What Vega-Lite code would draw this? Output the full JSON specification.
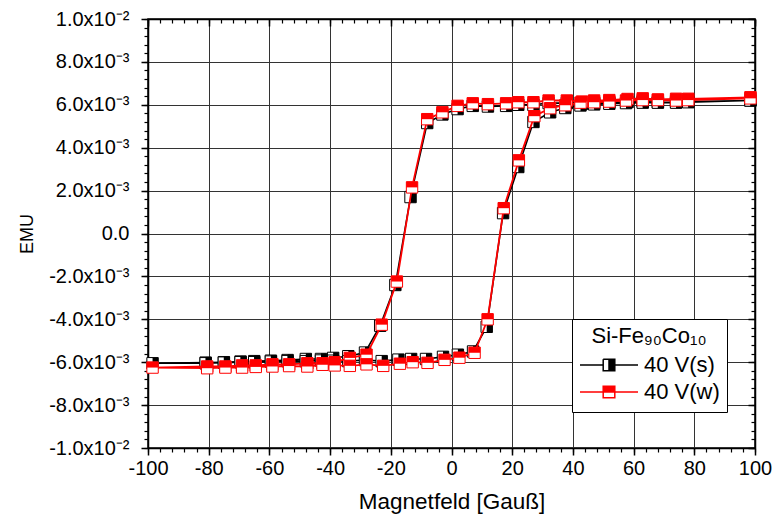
{
  "$schema": "https://vega.github.io/schema/vega-lite/v6.json",
  "autosize": {"type": "none"},
  "width": 607,
  "height": 429,
  "padding": {"left": 148, "top": 19, "right": 20, "bottom": 73},
  "background": "white",
  "config": {
    "view": {"stroke": "black", "strokeWidth": 1.5},
    "font": "Liberation Sans"
  },
  "datasets": {
    "pts": [
      {"s":"40 V(s)","o":1,"x":98.5,"y":0.0062},
      {"s":"40 V(s)","o":2,"x":78,"y":0.00615},
      {"s":"40 V(s)","o":3,"x":74,"y":0.00613},
      {"s":"40 V(s)","o":4,"x":68,"y":0.00612},
      {"s":"40 V(s)","o":5,"x":63,"y":0.00615},
      {"s":"40 V(s)","o":6,"x":58,"y":0.00613},
      {"s":"40 V(s)","o":7,"x":52,"y":0.0061},
      {"s":"40 V(s)","o":8,"x":47,"y":0.00608},
      {"s":"40 V(s)","o":9,"x":43,"y":0.00605},
      {"s":"40 V(s)","o":10,"x":38,"y":0.00608},
      {"s":"40 V(s)","o":11,"x":32,"y":0.00608},
      {"s":"40 V(s)","o":12,"x":27,"y":0.006},
      {"s":"40 V(s)","o":13,"x":22,"y":0.006},
      {"s":"40 V(s)","o":14,"x":18,"y":0.00595},
      {"s":"40 V(s)","o":15,"x":12,"y":0.00592},
      {"s":"40 V(s)","o":16,"x":7,"y":0.00595},
      {"s":"40 V(s)","o":17,"x":2,"y":0.0058},
      {"s":"40 V(s)","o":18,"x":-3,"y":0.00555},
      {"s":"40 V(s)","o":19,"x":-8,"y":0.00515},
      {"s":"40 V(s)","o":20,"x":-13.5,"y":0.0017},
      {"s":"40 V(s)","o":21,"x":-18.5,"y":-0.0024},
      {"s":"40 V(s)","o":22,"x":-23.5,"y":-0.0043},
      {"s":"40 V(s)","o":23,"x":-28.5,"y":-0.00555},
      {"s":"40 V(s)","o":24,"x":-34,"y":-0.00572},
      {"s":"40 V(s)","o":25,"x":-39,"y":-0.0058},
      {"s":"40 V(s)","o":26,"x":-43,"y":-0.00585},
      {"s":"40 V(s)","o":27,"x":-48,"y":-0.00585},
      {"s":"40 V(s)","o":28,"x":-54,"y":-0.0059},
      {"s":"40 V(s)","o":29,"x":-59.5,"y":-0.00593},
      {"s":"40 V(s)","o":30,"x":-65,"y":-0.00595},
      {"s":"40 V(s)","o":31,"x":-69.5,"y":-0.00597},
      {"s":"40 V(s)","o":32,"x":-75,"y":-0.006},
      {"s":"40 V(s)","o":33,"x":-81,"y":-0.00602},
      {"s":"40 V(s)","o":34,"x":-98.5,"y":-0.00605},
      {"s":"40 V(s)","o":35,"x":-81,"y":-0.00605},
      {"s":"40 V(s)","o":36,"x":-75,"y":-0.00602},
      {"s":"40 V(s)","o":37,"x":-69.5,"y":-0.006},
      {"s":"40 V(s)","o":38,"x":-65,"y":-0.006},
      {"s":"40 V(s)","o":39,"x":-59.5,"y":-0.00597},
      {"s":"40 V(s)","o":40,"x":-54,"y":-0.00595},
      {"s":"40 V(s)","o":41,"x":-48,"y":-0.00595},
      {"s":"40 V(s)","o":42,"x":-43,"y":-0.00592},
      {"s":"40 V(s)","o":43,"x":-39,"y":-0.00593},
      {"s":"40 V(s)","o":44,"x":-34,"y":-0.00595},
      {"s":"40 V(s)","o":45,"x":-28.5,"y":-0.0059},
      {"s":"40 V(s)","o":46,"x":-23,"y":-0.00595},
      {"s":"40 V(s)","o":47,"x":-17.5,"y":-0.00588},
      {"s":"40 V(s)","o":48,"x":-13.3,"y":-0.00585},
      {"s":"40 V(s)","o":49,"x":-8.4,"y":-0.00585},
      {"s":"40 V(s)","o":50,"x":-2.8,"y":-0.00575},
      {"s":"40 V(s)","o":51,"x":2.1,"y":-0.00565},
      {"s":"40 V(s)","o":52,"x":7.1,"y":-0.0055},
      {"s":"40 V(s)","o":53,"x":11.6,"y":-0.00435},
      {"s":"40 V(s)","o":54,"x":17,"y":0.00095},
      {"s":"40 V(s)","o":55,"x":22,"y":0.0031},
      {"s":"40 V(s)","o":56,"x":27,"y":0.0052},
      {"s":"40 V(s)","o":57,"x":32.5,"y":0.00565},
      {"s":"40 V(s)","o":58,"x":37.5,"y":0.00585},
      {"s":"40 V(s)","o":59,"x":42.5,"y":0.00597},
      {"s":"40 V(s)","o":60,"x":47,"y":0.00602},
      {"s":"40 V(s)","o":61,"x":52,"y":0.00605},
      {"s":"40 V(s)","o":62,"x":57.5,"y":0.00608},
      {"s":"40 V(s)","o":63,"x":63,"y":0.0061},
      {"s":"40 V(s)","o":64,"x":68,"y":0.0061},
      {"s":"40 V(s)","o":65,"x":74,"y":0.0061},
      {"s":"40 V(s)","o":66,"x":78,"y":0.00612},
      {"s":"40 V(s)","o":67,"x":98.5,"y":0.0062},
      {"s":"40 V(w)","o":1,"x":98.5,"y":0.00635},
      {"s":"40 V(w)","o":2,"x":78,"y":0.00628},
      {"s":"40 V(w)","o":3,"x":74,"y":0.00628},
      {"s":"40 V(w)","o":4,"x":68,"y":0.00625},
      {"s":"40 V(w)","o":5,"x":63,"y":0.0063},
      {"s":"40 V(w)","o":6,"x":58,"y":0.00627},
      {"s":"40 V(w)","o":7,"x":52,"y":0.00622},
      {"s":"40 V(w)","o":8,"x":47,"y":0.0062},
      {"s":"40 V(w)","o":9,"x":43,"y":0.00615},
      {"s":"40 V(w)","o":10,"x":38,"y":0.0062},
      {"s":"40 V(w)","o":11,"x":32,"y":0.0062},
      {"s":"40 V(w)","o":12,"x":27,"y":0.00612},
      {"s":"40 V(w)","o":13,"x":22,"y":0.00612},
      {"s":"40 V(w)","o":14,"x":18,"y":0.00607},
      {"s":"40 V(w)","o":15,"x":12,"y":0.00603},
      {"s":"40 V(w)","o":16,"x":7,"y":0.00607},
      {"s":"40 V(w)","o":17,"x":2,"y":0.00595},
      {"s":"40 V(w)","o":18,"x":-3,"y":0.00565},
      {"s":"40 V(w)","o":19,"x":-8,"y":0.00533},
      {"s":"40 V(w)","o":20,"x":-13,"y":0.00215},
      {"s":"40 V(w)","o":21,"x":-18,"y":-0.00224},
      {"s":"40 V(w)","o":22,"x":-23,"y":-0.00425},
      {"s":"40 V(w)","o":23,"x":-28,"y":-0.00565},
      {"s":"40 V(w)","o":24,"x":-33.5,"y":-0.0058},
      {"s":"40 V(w)","o":25,"x":-38.5,"y":-0.006},
      {"s":"40 V(w)","o":26,"x":-42.5,"y":-0.00605},
      {"s":"40 V(w)","o":27,"x":-47.5,"y":-0.00605},
      {"s":"40 V(w)","o":28,"x":-53.5,"y":-0.0061},
      {"s":"40 V(w)","o":29,"x":-59,"y":-0.0061},
      {"s":"40 V(w)","o":30,"x":-64.5,"y":-0.00615},
      {"s":"40 V(w)","o":31,"x":-69,"y":-0.00615},
      {"s":"40 V(w)","o":32,"x":-74.5,"y":-0.0062},
      {"s":"40 V(w)","o":33,"x":-80.5,"y":-0.0062},
      {"s":"40 V(w)","o":34,"x":-98.5,"y":-0.00625},
      {"s":"40 V(w)","o":35,"x":-80.5,"y":-0.00628},
      {"s":"40 V(w)","o":36,"x":-74.5,"y":-0.00625},
      {"s":"40 V(w)","o":37,"x":-69,"y":-0.00625},
      {"s":"40 V(w)","o":38,"x":-64.5,"y":-0.00622},
      {"s":"40 V(w)","o":39,"x":-59,"y":-0.0062},
      {"s":"40 V(w)","o":40,"x":-53.5,"y":-0.00618},
      {"s":"40 V(w)","o":41,"x":-47.5,"y":-0.0062},
      {"s":"40 V(w)","o":42,"x":-42.5,"y":-0.00612},
      {"s":"40 V(w)","o":43,"x":-38.5,"y":-0.00615},
      {"s":"40 V(w)","o":44,"x":-33.5,"y":-0.00617},
      {"s":"40 V(w)","o":45,"x":-28,"y":-0.0061},
      {"s":"40 V(w)","o":46,"x":-22.5,"y":-0.00617},
      {"s":"40 V(w)","o":47,"x":-17,"y":-0.00607},
      {"s":"40 V(w)","o":48,"x":-12.8,"y":-0.006},
      {"s":"40 V(w)","o":49,"x":-7.9,"y":-0.00603},
      {"s":"40 V(w)","o":50,"x":-2.3,"y":-0.00589},
      {"s":"40 V(w)","o":51,"x":2.6,"y":-0.00579},
      {"s":"40 V(w)","o":52,"x":7.6,"y":-0.00556},
      {"s":"40 V(w)","o":53,"x":11.9,"y":-0.004},
      {"s":"40 V(w)","o":54,"x":17.2,"y":0.00118},
      {"s":"40 V(w)","o":55,"x":22.2,"y":0.00341},
      {"s":"40 V(w)","o":56,"x":27.3,"y":0.00547},
      {"s":"40 V(w)","o":57,"x":32.5,"y":0.00584},
      {"s":"40 V(w)","o":58,"x":37.5,"y":0.00598},
      {"s":"40 V(w)","o":59,"x":42.5,"y":0.0061},
      {"s":"40 V(w)","o":60,"x":47,"y":0.00612},
      {"s":"40 V(w)","o":61,"x":52,"y":0.00615},
      {"s":"40 V(w)","o":62,"x":57.5,"y":0.0062},
      {"s":"40 V(w)","o":63,"x":63,"y":0.00622},
      {"s":"40 V(w)","o":64,"x":68,"y":0.00622},
      {"s":"40 V(w)","o":65,"x":74,"y":0.0062},
      {"s":"40 V(w)","o":66,"x":78,"y":0.00622},
      {"s":"40 V(w)","o":67,"x":98.5,"y":0.0063}
    ]
  },
  "resolve": {"axis": {"x": "independent", "y": "independent"}},
  "layer": [
    {
      "data": {"name": "pts"},
      "transform": [{"filter": "datum.s == '40 V(s)'"}],
      "mark": {"type": "line", "color": "black", "strokeWidth": 1.6},
      "encoding": {
        "x": {"field": "x", "type": "quantitative", "scale": {"domain": [-100, 100], "nice": false, "zero": false},
          "axis": {"orient": "bottom", "values": [-100,-80,-60,-40,-20,0,20,40,60,80,100], "grid": true, "gridColor": "#333", "gridWidth": 1, "gridOpacity": 1,
            "domain": true, "domainColor": "black", "domainWidth": 1.5, "ticks": true, "tickSize": 7, "tickColor": "black", "tickWidth": 1.5,
            "labelExpr": "(datum.value < 0 ? '-' : '') + abs(datum.value)",
            "labelFont": "Liberation Sans", "labelFontSize": 20, "labelColor": "black", "labelPadding": 3, "labelFlush": false, "labelOverlap": false,
            "title": "Magnetfeld [Gauß]", "titleFont": "Liberation Sans", "titleFontSize": 22.5, "titleFontWeight": "normal", "titleColor": "black", "titlePadding": 12}},
        "y": {"field": "y", "type": "quantitative", "scale": {"domain": [-0.01, 0.01], "nice": false, "zero": false},
          "axis": {"orient": "left", "values": [-0.01,-0.008,-0.006,-0.004,-0.002,0,0.002,0.004,0.006,0.008,0.01], "grid": true, "gridColor": "#333", "gridWidth": 1, "gridOpacity": 1,
            "domain": true, "domainColor": "black", "domainWidth": 1.5, "ticks": true, "tickSize": 7, "tickColor": "black", "tickWidth": 1.5,
            "labelExpr": "datum.value == 0 ? '0.0' : (datum.value < 0 ? '-' : '') + format(abs(datum.value) * (abs(datum.value) > 0.0095 ? 100 : 1000), '.1f') + (abs(datum.value) > 0.0095 ? 'x10⁻²' : 'x10⁻³')",
            "labelFont": "Liberation Sans", "labelFontSize": 20, "labelColor": "black", "labelPadding": 12, "labelFlush": false, "labelOverlap": false,
            "title": "EMU", "titleFont": "Liberation Sans", "titleFontSize": 18, "titleFontWeight": "normal", "titleColor": "black", "titlePadding": 12}},
        "order": {"field": "o", "type": "quantitative"}
      }
    },
    {
      "data": {"name": "pts"},
      "transform": [{"filter": "datum.s == '40 V(s)'"}],
      "mark": {"type": "point", "shape": "square", "filled": true, "fill": "white", "stroke": "black", "strokeWidth": 1, "size": 130, "opacity": 1},
      "encoding": {
        "x": {"field": "x", "type": "quantitative", "axis": null},
        "y": {"field": "y", "type": "quantitative", "axis": null}
      }
    },
    {
      "data": {"name": "pts"},
      "transform": [{"filter": "datum.s == '40 V(s)'"}],
      "mark": {"type": "point", "shape": "M0,-1H1V1H0Z", "filled": true, "fill": "black", "strokeWidth": 0, "size": 130, "opacity": 1},
      "encoding": {
        "x": {"field": "x", "type": "quantitative", "axis": null},
        "y": {"field": "y", "type": "quantitative", "axis": null}
      }
    },
    {
      "data": {"name": "pts"},
      "transform": [{"filter": "datum.s == '40 V(w)'"}],
      "mark": {"type": "line", "color": "red", "strokeWidth": 1.8},
      "encoding": {
        "x": {"field": "x", "type": "quantitative", "axis": null},
        "y": {"field": "y", "type": "quantitative", "axis": null},
        "order": {"field": "o", "type": "quantitative"}
      }
    },
    {
      "data": {"name": "pts"},
      "transform": [{"filter": "datum.s == '40 V(w)'"}],
      "mark": {"type": "point", "shape": "square", "filled": true, "fill": "white", "stroke": "red", "strokeWidth": 1, "size": 130, "opacity": 1},
      "encoding": {
        "x": {"field": "x", "type": "quantitative", "axis": null},
        "y": {"field": "y", "type": "quantitative", "axis": null}
      }
    },
    {
      "data": {"name": "pts"},
      "transform": [{"filter": "datum.s == '40 V(w)'"}],
      "mark": {"type": "point", "shape": "M-1,-1H1V0H-1Z", "filled": true, "fill": "red", "strokeWidth": 0, "size": 130, "opacity": 1},
      "encoding": {
        "x": {"field": "x", "type": "quantitative", "axis": null},
        "y": {"field": "y", "type": "quantitative", "axis": null}
      }
    },
    {
      "data": {"name": "pts"},
      "mark": {"type": "point", "opacity": 0},
      "encoding": {
        "x": {"field": "x", "type": "quantitative",
          "axis": {"orient": "bottom", "values": [-100,-96,-92,-88,-84,-80,-76,-72,-68,-64,-60,-56,-52,-48,-44,-40,-36,-32,-28,-24,-20,-16,-12,-8,-4,0,4,8,12,16,20,24,28,32,36,40,44,48,52,56,60,64,68,72,76,80,84,88,92,96,100],
            "grid": false, "domain": false, "labels": false, "title": null, "ticks": true, "tickSize": 4, "tickColor": "black", "tickWidth": 1.2}},
        "y": {"field": "y", "type": "quantitative",
          "axis": {"orient": "left", "values": [-0.01,-0.0096,-0.0092,-0.0088,-0.0084,-0.008,-0.0076,-0.0072,-0.0068,-0.0064,-0.006,-0.0056,-0.0052,-0.0048,-0.0044,-0.004,-0.0036,-0.0032,-0.0028,-0.0024,-0.002,-0.0016,-0.0012,-0.0008,-0.0004,0,0.0004,0.0008,0.0012,0.0016,0.002,0.0024,0.0028,0.0032,0.0036,0.004,0.0044,0.0048,0.0052,0.0056,0.006,0.0064,0.0068,0.0072,0.0076,0.008,0.0084,0.0088,0.0092,0.0096,0.01],
            "grid": false, "domain": false, "labels": false, "title": null, "ticks": true, "tickSize": 4, "tickColor": "black", "tickWidth": 1.2}}
      }
    },
    {
      "data": {"name": "pts"},
      "mark": {"type": "point", "opacity": 0},
      "encoding": {
        "x": {"field": "x", "type": "quantitative",
          "axis": {"orient": "top", "values": [-100,-80,-60,-40,-20,0,20,40,60,80,100],
            "grid": false, "domain": true, "domainColor": "black", "domainWidth": 1.5, "labels": false, "title": null, "ticks": true, "tickSize": -7, "tickColor": "black", "tickWidth": 1.5}},
        "y": {"field": "y", "type": "quantitative",
          "axis": {"orient": "right", "values": [-0.01,-0.008,-0.006,-0.004,-0.002,0,0.002,0.004,0.006,0.008,0.01],
            "grid": false, "domain": true, "domainColor": "black", "domainWidth": 1.5, "labels": false, "title": null, "ticks": true, "tickSize": -7, "tickColor": "black", "tickWidth": 1.5}}
      }
    },
    {
      "data": {"name": "pts"},
      "mark": {"type": "point", "opacity": 0},
      "encoding": {
        "x": {"field": "x", "type": "quantitative",
          "axis": {"orient": "top", "values": [-100,-96,-92,-88,-84,-80,-76,-72,-68,-64,-60,-56,-52,-48,-44,-40,-36,-32,-28,-24,-20,-16,-12,-8,-4,0,4,8,12,16,20,24,28,32,36,40,44,48,52,56,60,64,68,72,76,80,84,88,92,96,100],
            "grid": false, "domain": false, "labels": false, "title": null, "ticks": true, "tickSize": -4, "tickColor": "black", "tickWidth": 1.2}},
        "y": {"field": "y", "type": "quantitative",
          "axis": {"orient": "right", "values": [-0.01,-0.0096,-0.0092,-0.0088,-0.0084,-0.008,-0.0076,-0.0072,-0.0068,-0.0064,-0.006,-0.0056,-0.0052,-0.0048,-0.0044,-0.004,-0.0036,-0.0032,-0.0028,-0.0024,-0.002,-0.0016,-0.0012,-0.0008,-0.0004,0,0.0004,0.0008,0.0012,0.0016,0.002,0.0024,0.0028,0.0032,0.0036,0.004,0.0044,0.0048,0.0052,0.0056,0.006,0.0064,0.0068,0.0072,0.0076,0.008,0.0084,0.0088,0.0092,0.0096,0.01],
            "grid": false, "domain": false, "labels": false, "title": null, "ticks": true, "tickSize": -4, "tickColor": "black", "tickWidth": 1.2}}
      }
    },
    {
      "data": {"name": "pts"},
      "transform": [{"filter": "false"}],
      "mark": {"type": "point", "filled": true, "opacity": 1},
      "encoding": {
        "x": {"field": "x", "type": "quantitative", "axis": null},
        "y": {"field": "y", "type": "quantitative", "axis": null},
        "color": {"field": "s", "type": "nominal", "scale": {"domain": ["40 V(s)", "40 V(w)"], "range": ["black", "red"]},
          "legend": {"orient": "none", "legendX": 424, "legendY": 300, "title": "Si-Fe₉₀Co₁₀", "titleFont": "Liberation Sans", "titleFontSize": 22, "titleFontWeight": "normal", "titleColor": "black", "titleAnchor": "middle", "titlePadding": 4,
            "labelFont": "Liberation Sans", "labelFontSize": 22, "labelColor": "black", "symbolSize": 3364, "symbolStrokeWidth": 1.5, "symbolOpacity": 1, "clipHeight": 26,
            "strokeColor": "black", "fillColor": "white", "padding": 7, "rowPadding": 1, "labelOffset": 5}},
        "stroke": {"field": "s", "type": "nominal", "scale": {"domain": ["40 V(s)", "40 V(w)"], "range": ["black", "red"]},
          "legend": {"orient": "none", "legendX": 424, "legendY": 300, "title": "Si-Fe₉₀Co₁₀", "titleFont": "Liberation Sans", "titleFontSize": 22, "titleFontWeight": "normal", "titleColor": "black", "titleAnchor": "middle", "titlePadding": 4,
            "labelFont": "Liberation Sans", "labelFontSize": 22, "labelColor": "black", "symbolSize": 3364, "symbolStrokeWidth": 1.5, "symbolOpacity": 1, "clipHeight": 26,
            "strokeColor": "black", "fillColor": "white", "padding": 7, "rowPadding": 1, "labelOffset": 5}},
        "shape": {"field": "s", "type": "nominal", "scale": {"domain": ["40 V(s)", "40 V(w)"], "range": ["M-1,0H-0.2M0.2,0H1M-0.2,-0.2H0.2V0.2H-0.2V-0.2V0.2H0.2V-0.2H-0.2M0,-0.2H0.2V0.2H0Z", "M-1,0H-0.2M0.2,0H1M-0.2,-0.2H0.2V0.2H-0.2V-0.2V0.2H0.2V-0.2H-0.2M-0.2,-0.2H0.2V0H-0.2Z"]},
          "legend": {"orient": "none", "legendX": 424, "legendY": 300, "title": "Si-Fe₉₀Co₁₀", "titleFont": "Liberation Sans", "titleFontSize": 22, "titleFontWeight": "normal", "titleColor": "black", "titleAnchor": "middle", "titlePadding": 4,
            "labelFont": "Liberation Sans", "labelFontSize": 22, "labelColor": "black", "symbolSize": 3364, "symbolStrokeWidth": 1.5, "symbolOpacity": 1, "clipHeight": 26,
            "strokeColor": "black", "fillColor": "white", "padding": 7, "rowPadding": 1, "labelOffset": 5}}
      }
    }
  ]
}
